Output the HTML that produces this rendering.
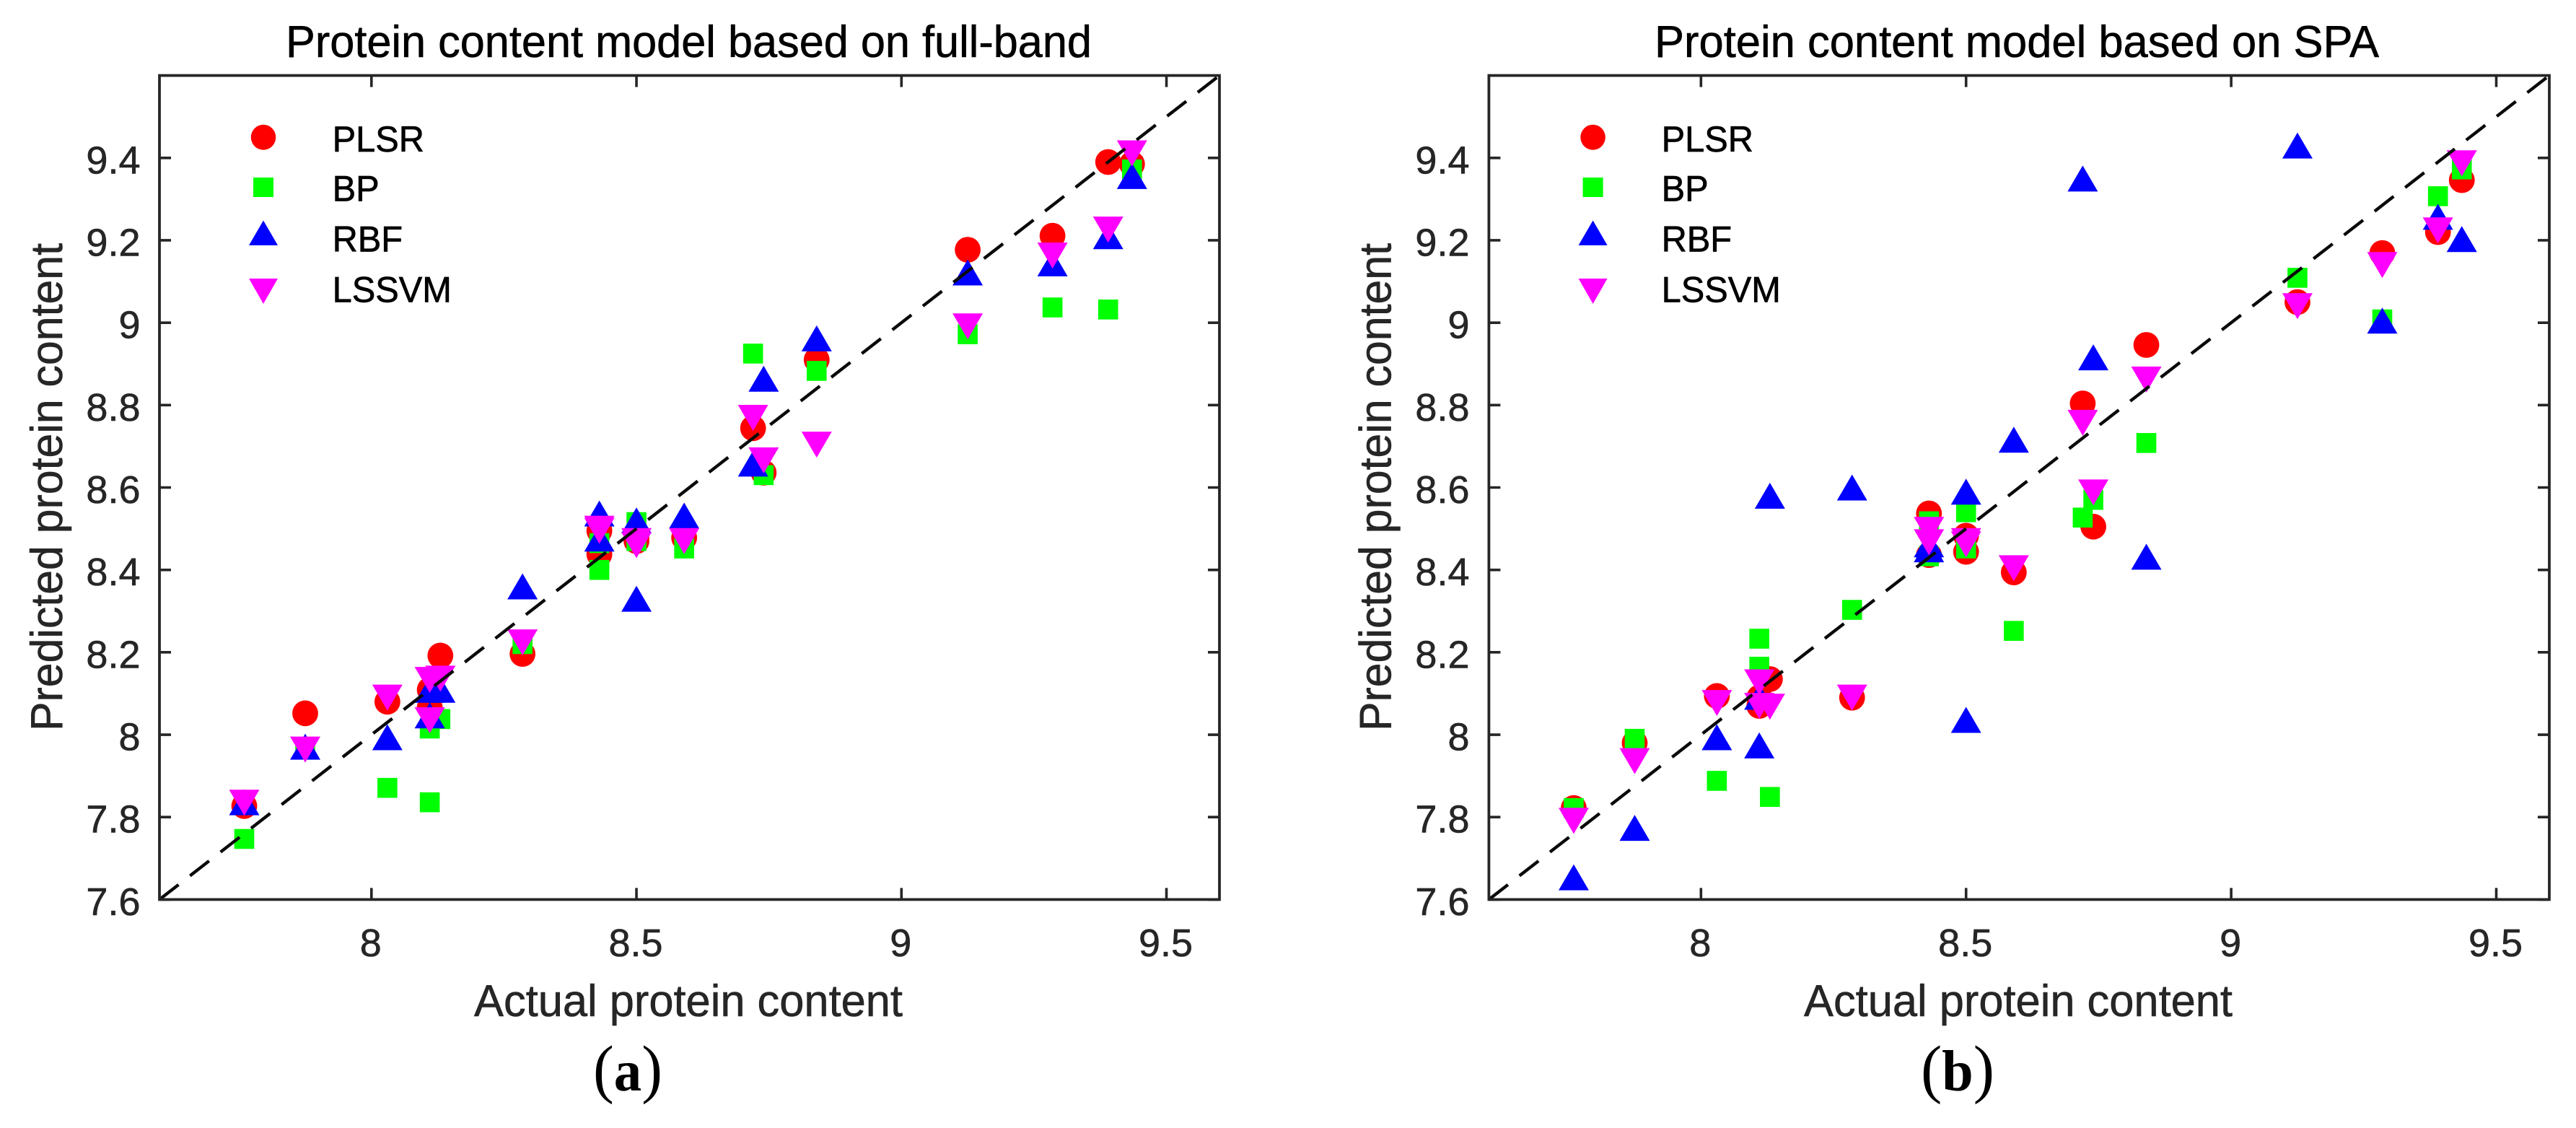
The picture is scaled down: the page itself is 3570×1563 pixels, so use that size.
<!DOCTYPE html>
<html lang="en">
<head>
<meta charset="utf-8">
<title>Protein content models</title>
<style>
html,body{margin:0;padding:0;background:#fff;}
svg{display:block;}
text{font-family:"Liberation Sans",Arial,sans-serif;}
</style>
</head>
<body>
<svg id="figure" xmlns="http://www.w3.org/2000/svg" width="3570" height="1563" viewBox="0 0 3570 1563">
<rect x="0" y="0" width="3570" height="1563" fill="#ffffff"/>
</svg>
<script>
const actualProtein = [7.76,7.875,8.03,8.11,8.11,8.13,8.285,8.43,8.43,8.5,8.5,8.59,8.72,8.74,8.84,9.125,9.285,9.39,9.435];
const fullBandPLSR  = [7.827,8.052,8.08,8.109,8.066,8.192,8.196,8.438,8.495,8.47,8.48,8.478,8.744,8.636,8.91,9.177,9.211,9.39,9.385];
const fullBandBP    = [7.747,7.97,7.871,7.836,8.015,8.038,8.22,8.40,8.465,8.516,8.47,8.452,8.925,8.63,8.883,8.972,9.037,9.032,9.372];
const fullBandRBF   = [7.836,7.971,7.994,8.047,8.109,8.109,8.36,8.476,8.537,8.52,8.33,8.532,8.658,8.864,8.962,9.122,9.144,9.21,9.356];
const fullBandLSSVM = [7.835,7.964,8.09,8.035,8.133,8.136,8.224,8.495,8.5,8.46,8.47,8.47,8.769,8.666,8.704,8.991,9.163,9.226,9.411];
const spaPLSR  = [7.822,7.98,8.094,8.07,8.09,8.135,8.09,8.436,8.537,8.483,8.444,8.394,8.804,8.505,8.946,9.05,9.169,9.22,9.346];
const spaBP    = [7.822,7.99,7.888,8.233,8.165,7.849,8.303,8.433,8.518,8.54,8.452,8.252,8.527,8.57,8.708,9.109,9.008,9.307,9.372];
const spaRBF   = [7.654,7.774,7.994,7.974,8.092,8.58,8.60,8.45,8.462,8.59,8.036,8.716,9.35,8.916,8.432,9.43,9.005,9.257,9.203];
const spaLSSVM = [7.791,7.936,8.077,8.127,8.07,8.068,8.09,8.467,8.497,8.462,8.47,8.404,8.757,8.588,8.862,9.04,9.14,9.224,9.387];
const xTickValues = [8,8.5,9,9.5];
const xTickLabels = ["8","8.5","9","9.5"];
const yTickValues = [7.6,7.8,8,8.2,8.4,8.6,8.8,9,9.2,9.4];
const yTickLabels = ["7.6","7.8","8","8.2","8.4","8.6","8.8","9","9.2","9.4"];
const axisDomain = [7.6,9.6];
const seriesNames = ["PLSR","BP","RBF","LSSVM"];
const seriesColors = ["#ff0000","#00ff00","#0000ff","#ff00ff"];
const seriesShapes = ["circle","square","up","down"];

const NS = "http://www.w3.org/2000/svg";
const svg = document.getElementById("figure");
const INK = "#262626";

function node(parent, tag, attrs, text) {
  const el = document.createElementNS(NS, tag);
  for (const k in attrs) el.setAttribute(k, attrs[k]);
  if (text !== undefined) el.textContent = text;
  parent.appendChild(el);
  return el;
}

function drawMarker(parent, shape, cx, cy, color, w, h) {
  if (shape === "circle") {
    return node(parent, "ellipse", {cx: cx, cy: cy, rx: w / 2, ry: h / 2, fill: color});
  }
  if (shape === "square") {
    return node(parent, "rect", {x: cx - w / 2, y: cy - h / 2, width: w, height: h, fill: color});
  }
  const top = cy - h / 2, bot = cy + h / 2;
  const pts = shape === "up"
    ? [cx, top, cx + w / 2, bot, cx - w / 2, bot]
    : [cx - w / 2, top, cx + w / 2, top, cx, bot];
  return node(parent, "polygon", {points: pts.join(" "), fill: color});
}

function drawPanel(cfg) {
  const L = cfg.left, R = cfg.right, T = 104.6, B = 1246.4;
  const xScale = v => L + (v - axisDomain[0]) / (axisDomain[1] - axisDomain[0]) * (R - L);
  const yScale = v => B - (v - axisDomain[0]) / (axisDomain[1] - axisDomain[0]) * (B - T);

  const panel = node(svg, "g", {});
  
  

  const marks = node(panel, "g", {});
  
  
  cfg.series.forEach((vals, s) => {
    const group = node(marks, "g", {});
    
    
    vals.forEach((v, i) => {
      const sizes = s === 0 ? [35.8, 35.8] : s === 1 ? [27.6, 27.6] : [42, 36];
      const m = drawMarker(group, seriesShapes[s], xScale(actualProtein[i]), yScale(v), seriesColors[s], sizes[0], sizes[1]);
      
      
    });
  });

  const diag = node(panel, "line", {x1: xScale(axisDomain[0]), y1: yScale(axisDomain[0]), x2: xScale(axisDomain[1]), y2: yScale(axisDomain[1]), stroke: "#0a0a0a", "stroke-width": 4.4, "stroke-dasharray": "33.5 20.1"});
  
  

  const frame = node(panel, "rect", {x: L, y: T, width: R - L, height: B - T, fill: "none", stroke: INK, "stroke-width": 3.8});
  
  

  xTickValues.forEach((v, i) => {
    const x = xScale(v);
    const t = node(panel, "path", {d: `M${x} ${B}V${B - 16}M${x} ${T}V${T + 16}`, stroke: INK, "stroke-width": 3.6, fill: "none"});
    
    
    const lab = node(panel, "text", {x: x - 1, y: 1325, "text-anchor": "middle", "font-size": 54, fill: INK, stroke: INK, "stroke-width": 0.6}, xTickLabels[i]);
    
    
  });
  yTickValues.forEach((v, i) => {
    const y = yScale(v);
    const t = node(panel, "path", {d: `M${L} ${y}H${L + 16}M${R} ${y}H${R - 16}`, stroke: INK, "stroke-width": 3.6, fill: "none"});
    
    
    const lab = node(panel, "text", {x: cfg.yLabelRight, y: y + 21.5, "text-anchor": "end", "font-size": 54, fill: INK, stroke: INK, "stroke-width": 0.6}, yTickLabels[i]);
    
    
  });

  const title = node(panel, "text", {x: cfg.titleX, y: 79, "font-size": 62, fill: "#000", stroke: "#000", "stroke-width": 0.6, textLength: cfg.titleW, lengthAdjust: "spacingAndGlyphs"}, cfg.title);
  
  

  const xTitle = node(panel, "text", {x: cfg.xTitleX, y: 1408, "font-size": 62, fill: INK, stroke: INK, "stroke-width": 0.6, textLength: 594, lengthAdjust: "spacingAndGlyphs"}, "Actual protein content");
  
  

  const yTitle = node(panel, "text", {transform: `translate(${cfg.yTitleX},1013) rotate(-90)`, x: 0, y: 0, "font-size": 62, fill: INK, stroke: INK, "stroke-width": 0.6, textLength: 676, lengthAdjust: "spacingAndGlyphs"}, "Predicted protein content");
  
  

  const legend = node(panel, "g", {});
  
  
  const legendMarkerY = [190.2, 259.5, 322.7, 403.5];
  const legendBase = [210, 278.7, 348.7, 418.3];
  const legendSizes = [[34.5, 35], [28, 27], [40, 34.3], [40, 35]];
  seriesNames.forEach((name, s) => {
    const entry = node(legend, "g", {});
    
    
    const lm = drawMarker(entry, seriesShapes[s], cfg.legendMarkerX, legendMarkerY[s], seriesColors[s], legendSizes[s][0], legendSizes[s][1]);
    
    
    const lt = node(entry, "text", {transform: `translate(${cfg.legendTextX},${legendBase[s]}) scale(0.975,1)`, x: 0, y: 0, "font-size": 50, fill: "#000", stroke: "#000", "stroke-width": 0.7}, name);
    
    
  });

  const cap = node(panel, "text", {x: cfg.capX, y: 1511, "font-size": 80, fill: "#000", textLength: cfg.capW, lengthAdjust: "spacingAndGlyphs", style: 'font-family:"Liberation Serif","Times New Roman",serif'});
  
  
  node(cap, "tspan", {"font-size": 90}, "(");
  node(cap, "tspan", {"font-weight": "bold"}, cfg.capLetter);
  node(cap, "tspan", {"font-size": 90}, ")");
}

drawPanel({
  name: "panel-a-full-band", left: 221, right: 1690, yLabelRight: 194.5,
  title: "Protein content model based on full-band", titleX: 396, titleW: 1117,
  xTitleX: 657, yTitleX: 86, legendMarkerX: 365, legendTextX: 460.6,
  capX: 822, capW: 96, capLetter: "a",
  series: [fullBandPLSR, fullBandBP, fullBandRBF, fullBandLSSVM]
});
drawPanel({
  name: "panel-b-spa", left: 2063.4, right: 3533, yLabelRight: 2036.5,
  title: "Protein content model based on SPA", titleX: 2293, titleW: 1004,
  xTitleX: 2500, yTitleX: 1927.4, legendMarkerX: 2207.6, legendTextX: 2302.6,
  capX: 2662, capW: 102, capLetter: "b",
  series: [spaPLSR, spaBP, spaRBF, spaLSSVM]
});
</script>
</body>
</html>
